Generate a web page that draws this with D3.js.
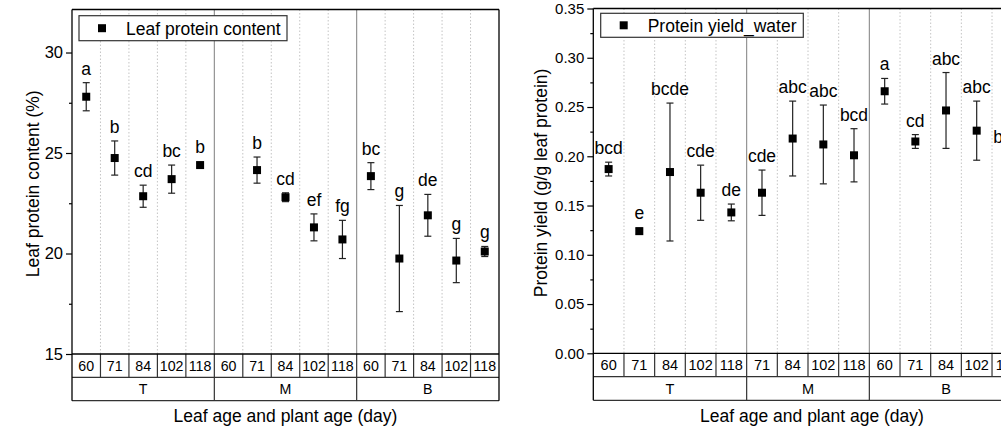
<!DOCTYPE html>
<html>
<head>
<meta charset="utf-8">
<script src="https://cdn.jsdelivr.net/npm/d3@7"></script>
<style>
  html, body { margin: 0; padding: 0; background: #fff; }
  svg { display: block; font-family: "Liberation Sans", Arial, sans-serif; }
</style>
</head>
<body>
<svg id="chart" width="1001" height="428"></svg>
<script>
// leaf protein content (%), T/M/B leaves x plant age; M60 has no sample
const proteinGroups = ['T', 'M', 'B'];
const proteinAges = [60, 71, 84, 102, 118];
const proteinMean = [27.8, 24.75, 22.85, 23.7, 24.4, null, 24.15, 22.8, 21.3, 20.7, 23.85, 19.75, 21.9, 19.65, 20.1];
const proteinSd = [0.7, 0.85, 0.55, 0.7, 0.1, null, 0.65, 0.22, 0.67, 0.95, 0.67, 2.64, 1.04, 1.1, 0.25];
const proteinLetters = ['a', 'b', 'cd', 'bc', 'b', '', 'b', 'cd', 'ef', 'fg', 'bc', 'g', 'de', 'g', 'g'];
const proteinTicks = [15, 20, 25, 30];
const proteinMinor = [17.5, 22.5, 27.5];

// protein yield (g/g leaf protein), water extraction
const yieldAgesT = [60, 71, 84, 102, 118];
const yieldAgesM = [71, 84, 102, 118];
const yieldAgesB = [60, 71, 84, 102, 118];
const yieldMean = [0.187, 0.124, 0.184, 0.163, 0.143, 0.163, 0.218, 0.212, 0.201, 0.266, 0.215, 0.2465, 0.226, 0.185];
const yieldSd = [0.007, 0.003, 0.07, 0.028, 0.0085, 0.023, 0.038, 0.04, 0.027, 0.013, 0.007, 0.0385, 0.03, 0.02];
const yieldLetters = ['bcd', 'e', 'bcde', 'cde', 'de', 'cde', 'abc', 'abc', 'bcd', 'a', 'cd', 'abc', 'abc', 'bcd'];
const yieldTicks = [0, 0.05, 0.1, 0.15, 0.2, 0.25, 0.3, 0.35];
const yieldMinor = [0.025, 0.075, 0.125, 0.175, 0.225, 0.275, 0.325];

const svg = d3.select('#chart');

function drawPanel(cfg) {
  const cats = cfg.cats;
  const x = d3.scaleBand().domain(cats.map(c => c.key)).range([cfg.x0, cfg.x1]);
  const y = d3.scaleLinear().domain(cfg.domain).range([cfg.yBot, cfg.yTop]);
  const bw = x.bandwidth();
  const g = svg.append('g');

  const groupStart = cats.filter((c, i) => i > 0 && cats[i - 1].group !== c.group);
  const inner = cats.filter((c, i) => i > 0 && cats[i - 1].group === c.group);

  // dotted grid between categories
  g.selectAll('.grid').data(inner).join('line')
    .attr('x1', c => x(c.key)).attr('x2', c => x(c.key))
    .attr('y1', cfg.yTop).attr('y2', cfg.yBot)
    .attr('stroke', '#c4c4c4').attr('stroke-dasharray', '1.5,2');
  // group separators
  g.selectAll('.sep').data(groupStart).join('line')
    .attr('x1', c => x(c.key)).attr('x2', c => x(c.key))
    .attr('y1', cfg.yTop).attr('y2', cfg.yBot)
    .attr('stroke', '#8a8a8a').attr('stroke-width', 1.1);

  // category table under the axis
  const tbl = g.append('g').attr('stroke', '#333').attr('stroke-width', 1.2);
  [cfg.rowMid, cfg.tableBot].forEach(v => {
    tbl.append('line').attr('x1', cfg.x0).attr('x2', cfg.x1).attr('y1', v).attr('y2', v);
  });
  tbl.selectAll('.cell').data(inner).join('line')
    .attr('x1', c => x(c.key)).attr('x2', c => x(c.key))
    .attr('y1', cfg.yBot).attr('y2', cfg.rowMid);
  tbl.selectAll('.grp').data(groupStart).join('line')
    .attr('x1', c => x(c.key)).attr('x2', c => x(c.key))
    .attr('y1', cfg.yBot).attr('y2', cfg.tableBot);

  g.selectAll('.age').data(cats).join('text')
    .attr('x', c => x(c.key) + bw / 2).attr('y', cfg.rowMid - 6.5)
    .attr('text-anchor', 'middle').attr('font-size', cfg.catSize)
    .text(c => c.age);
  const grpNames = Array.from(new Set(cats.map(c => c.group)));
  g.selectAll('.gname').data(grpNames).join('text')
    .attr('x', n => {
      const cs = cats.filter(c => c.group === n);
      return (x(cs[0].key) + x(cs[cs.length - 1].key) + bw) / 2;
    })
    .attr('y', cfg.tableBot - 6.5)
    .attr('text-anchor', 'middle').attr('font-size', cfg.catSize)
    .text(n => n);

  // frame
  const fr = g.append('g').attr('stroke', '#000').attr('stroke-width', 1.3);
  fr.append('line').attr('x1', cfg.x0).attr('x2', cfg.x1).attr('y1', cfg.yTop).attr('y2', cfg.yTop);
  fr.append('line').attr('x1', cfg.x0).attr('x2', cfg.x1).attr('y1', cfg.yBot).attr('y2', cfg.yBot);
  fr.append('line').attr('x1', cfg.x0).attr('x2', cfg.x0).attr('y1', cfg.yTop).attr('y2', cfg.tableBot);
  fr.append('line').attr('x1', cfg.x1).attr('x2', cfg.x1).attr('y1', cfg.yTop).attr('y2', cfg.tableBot);

  // y axis, major and minor ticks
  const ax = g.append('g').attr('transform', `translate(${cfg.x0},0)`)
    .call(d3.axisLeft(y).tickValues(cfg.ticks).tickSize(6).tickPadding(3).tickFormat(cfg.fmt));
  ax.select('.domain').remove();
  ax.selectAll('text').attr('font-size', cfg.tickSize).attr('fill', '#000').attr('font-family', null);
  ax.selectAll('line').attr('stroke', '#000').attr('stroke-width', 1.2);
  const mx = g.append('g').attr('transform', `translate(${cfg.x0},0)`)
    .call(d3.axisLeft(y).tickValues(cfg.minor).tickSize(3).tickFormat(''));
  mx.select('.domain').remove();
  mx.selectAll('line').attr('stroke', '#000').attr('stroke-width', 1.2);

  // points with sd bars and letters
  const pts = cats.map((c, i) => ({ key: c.key, m: cfg.mean[i], s: cfg.sd[i], l: cfg.letters[i] }))
    .filter(d => d.m != null);
  const cx = d => x(d.key) + bw / 2;
  const eb = g.append('g').attr('stroke', '#222').attr('stroke-width', 1.2);
  eb.selectAll('.v').data(pts).join('line')
    .attr('x1', cx).attr('x2', cx)
    .attr('y1', d => y(d.m + d.s)).attr('y2', d => y(d.m - d.s));
  [1, -1].forEach(k => {
    eb.selectAll('.c' + k).data(pts).join('line')
      .attr('x1', d => cx(d) - 3.5).attr('x2', d => cx(d) + 3.5)
      .attr('y1', d => y(d.m + k * d.s)).attr('y2', d => y(d.m + k * d.s));
  });
  g.selectAll('.pt').data(pts).join('rect')
    .attr('x', d => cx(d) - 4).attr('y', d => y(d.m) - 4)
    .attr('width', 8).attr('height', 8).attr('fill', '#000');
  g.selectAll('.lt').data(pts).join('text')
    .attr('x', cx)
    .attr('y', d => Math.min(y(d.m + d.s), y(d.m) - 4) - 8)
    .attr('text-anchor', 'middle').attr('font-size', 17.5)
    .text(d => d.l);

  // legend
  const lg = cfg.legend;
  g.append('rect').attr('x', lg.x).attr('y', lg.y).attr('width', lg.w).attr('height', lg.h)
    .attr('fill', '#fff').attr('stroke', '#333').attr('stroke-width', 1.2);
  g.append('rect').attr('x', lg.x + 19).attr('y', lg.y + lg.h / 2 - 4)
    .attr('width', 8).attr('height', 8).attr('fill', '#000');
  g.append('text').attr('x', lg.x + 47).attr('y', lg.y + lg.h / 2 + 6.3)
    .attr('font-size', 17.5).text(lg.label);

  // axis titles
  g.append('text')
    .attr('transform', `translate(${cfg.yTitleX},${(cfg.yTop + cfg.yBot) / 2 + 2}) rotate(-90)`)
    .attr('text-anchor', 'middle').attr('font-size', 17.5).text(cfg.yTitle);
  g.append('text')
    .attr('x', cfg.xTitleX).attr('y', 421.5)
    .attr('text-anchor', 'middle').attr('font-size', 17.5).text('Leaf age and plant age (day)');
}

const proteinCats = [];
proteinGroups.forEach(gr => proteinAges.forEach(a => proteinCats.push({ key: gr + a, group: gr, age: a })));
const yieldCats = [];
[['T', yieldAgesT], ['M', yieldAgesM], ['B', yieldAgesB]].forEach(([gr, ages]) =>
  ages.forEach(a => yieldCats.push({ key: gr + a, group: gr, age: a })));

drawPanel({
  cats: proteinCats, mean: proteinMean, sd: proteinSd, letters: proteinLetters,
  x0: 72, x1: 499, yTop: 9.5, yBot: 354, rowMid: 377.3, tableBot: 400.7,
  domain: [15, 32.14], ticks: proteinTicks, minor: proteinMinor, fmt: d3.format('d'),
  tickSize: 16.5, catSize: 14.2,
  legend: { x: 79, y: 15.7, w: 208, h: 25, label: 'Leaf protein content' },
  yTitle: 'Leaf protein content (%)', yTitleX: 39, xTitleX: 285.5
});

drawPanel({
  cats: yieldCats, mean: yieldMean, sd: yieldSd, letters: yieldLetters,
  x0: 593.3, x1: 1022.7, yTop: 8.5, yBot: 353.3, rowMid: 376.7, tableBot: 400.3,
  domain: [0, 0.35], ticks: yieldTicks, minor: yieldMinor, fmt: d3.format('.2f'),
  tickSize: 15, catSize: 14.5,
  legend: { x: 600.7, y: 13.3, w: 202.6, h: 24, label: 'Protein yield_water' },
  yTitle: 'Protein yield (g/g leaf protein)', yTitleX: 547, xTitleX: 812
});
</script>
</body>
</html>
